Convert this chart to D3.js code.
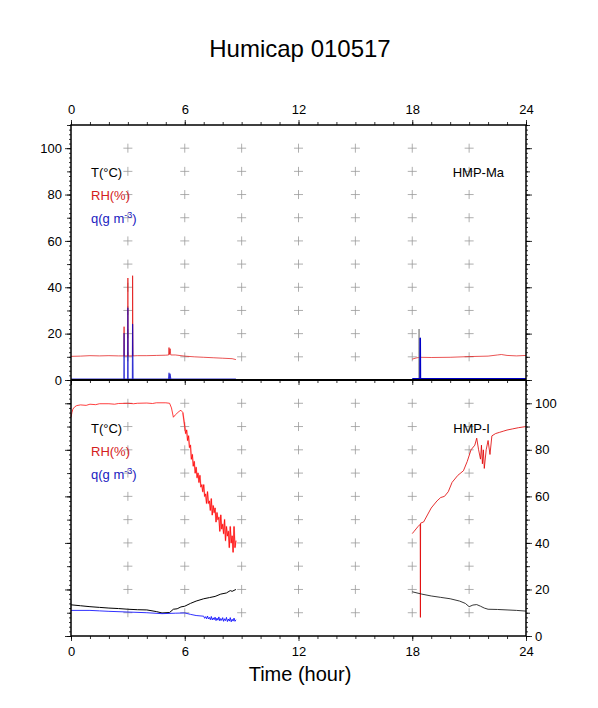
<!DOCTYPE html>
<html>
<head>
<meta charset="utf-8">
<script src="https://cdn.jsdelivr.net/npm/d3@7"></script>
<style>
body { margin: 0; background: #fff; }
text { font-family: "Liberation Sans", Arial, Helvetica, sans-serif; }
</style>
</head>
<body>
<script>
// hours of the day, tick labels
var hourLabels = [0, 6, 12, 18, 24];
var yLabels = [0, 20, 40, 60, 80, 100];

// ---- upper panel, HMP-Ma : [hour, value]
var rhMaAM = [[0,10.2],[0.5,10.3],[1,10.5],[1.5,10.4],[2,10.5],[2.5,10.4],[2.79,10.4],[2.8,23],[2.81,10.4],
  [2.99,10.4],[3.0,44],[3.01,10.4],[3.24,10.4],[3.25,45],[3.27,10.4],[3.5,10.5],[4,10.5],[4.5,10.6],[5,10.7],
  [5.15,10.8],[5.17,14],[5.19,11],[5.23,13.5],[5.26,10.8],[5.5,10.8],[6,10.3],[6.5,10.0],[7,9.8],[7.5,9.6],
  [8,9.4],[8.5,9.2],[8.7,8.8]];
var rhMaPM = [[18.0,9.0],[18.2,9.5],[18.4,9.8],[19,9.7],[20,9.8],[21,10.1],[22,10.3],[22.5,10.8],[22.7,11],
  [23,10.6],[23.5,10.4],[24,10.6]];
var qMaAM = [[0,0.4],[2.79,0.4],[2.8,20],[2.81,0.4],[2.99,0.4],[3.0,31],[3.01,0.4],[3.24,0.4],[3.25,24],
  [3.27,0.4],[5.15,0.4],[5.17,3],[5.19,0.4],[5.23,2.5],[5.26,0.4],[8.7,0.4]];
var qMaPM = [[18.0,0.5],[18.41,0.5],[18.42,18],[18.43,0.5],[24,0.5]];
var tMaAM = [[0,0.2],[8.7,0.2]];
var tMaPM = [[18.0,0.2],[18.35,0.2],[18.36,22],[18.37,0.2],[24,0.2]];

// ---- lower panel, HMP-I : [hour, value]
var rhIAM = [[0,94],[0.05,96],[0.1,97.5],[0.2,98.5],[0.3,99],[0.5,99.3],[0.8,99.1],[1,99.6],[1.3,99.4],
  [1.5,99.8],[2,99.8],[2.3,99.6],[2.5,99.9],[3,100],[3.3,99.8],[3.5,100],[4,100.1],[4.3,99.9],[4.5,100.2],
  [5,100.2],[5.2,100],[5.3,98],[5.4,94],[5.5,95],[5.7,96.5],[5.8,97],[5.9,96],
  [6.00,90],[6.05,87],[6.10,88.5],[6.15,84],[6.20,86],[6.25,81],[6.30,82],[6.35,76],[6.40,78],[6.45,73],
  [6.50,75],[6.55,70],[6.60,72.5],[6.65,68],[6.70,70],[6.75,66],[6.80,69],[6.85,64],[6.90,65],[6.95,62],
  [7.00,65],[7.05,60],[7.10,61],[7.15,57],[7.20,62],[7.25,57],[7.30,58],[7.35,54],[7.40,59],[7.45,52],
  [7.50,56],[7.55,53],[7.60,55],[7.65,49],[7.70,53],[7.75,50],[7.80,51],[7.85,45],[7.90,52],[7.95,46],
  [8.00,48],[8.05,44],[8.10,50],[8.15,41],[8.20,47],[8.25,43],[8.30,45],[8.35,38],[8.40,47],[8.45,40],
  [8.50,43],[8.55,36],[8.60,47],[8.65,38],[8.70,41]];
var rhIPM = [[18.0,44],[18.1,45],[18.2,46],[18.3,47],[18.42,48],[18.43,8],[18.44,48.5],[18.6,49],[18.8,52],
  [19.0,55],[19.3,58],[19.5,59.5],[19.7,60],[19.9,62],[20.1,66],[20.4,69],[20.7,71],[20.9,75],[21.1,80],
  [21.3,82],[21.4,85],[21.5,80],[21.6,76],[21.65,82],[21.7,74],[21.75,80],[21.8,72],[21.9,80],[22.0,84],
  [22.1,78],[22.2,86],[22.4,87],[22.6,87.5],[22.8,88],[23.0,88.5],[23.3,89],[23.6,89.5],[24,90]];
var tIAM = [[0,13.4],[0.5,13],[1,12.6],[1.5,12.3],[2,12],[2.5,11.8],[3,11.5],[3.5,11.3],[4,11.2],[4.5,10.5],
  [4.8,9.9],[5.2,10.1],[5.4,11.5],[5.6,11.7],[5.8,12.5],[6,12.8],[6.3,14],[6.6,15],[7,16],[7.3,16.5],
  [7.6,17],[7.9,18],[8.2,18.5],[8.4,19.5],[8.5,19.2],[8.7,20]];
var tIPM = [[18,19],[18.5,18],[19,17.2],[19.5,16.6],[20,16],[20.5,15],[20.8,14],[21,12.6],[21.2,13.3],
  [21.4,13.5],[21.6,12.8],[21.8,12],[22,11.5],[22.5,11.4],[23,11.2],[23.5,11],[24,10.7]];
var qIAM = [[0,11],[1,11],[1.5,10.8],[2,10.6],[3,10.3],[4,10],[4.8,9.6],[5.5,9.8],[6,9.9],[6.3,9.3],
  [6.6,8.8],[7.0,8.5],[7.05,7.6],[7.1,8.3],[7.15,7.4],[7.2,8.6],[7.25,7.3],[7.3,8.0],[7.35,7.0],[7.4,8.4],
  [7.45,6.9],[7.5,7.8],[7.55,7.0],[7.6,8.1],[7.65,6.6],[7.7,7.7],[7.75,6.8],[7.8,8.2],[7.85,6.5],[7.9,7.5],
  [7.95,6.7],[8.0,7.9],[8.05,6.3],[8.1,7.4],[8.15,6.6],[8.2,8.0],[8.25,6.2],[8.3,7.3],[8.35,6.4],[8.4,7.9],
  [8.45,6.1],[8.5,7.2],[8.55,6.4],[8.6,7.7],[8.65,6.3],[8.7,7.0]];

var W = 598, H = 708;
var left = 71, right = 526;

var svg = d3.select("body").append("svg")
  .attr("width", W)
  .attr("height", H);

var x = d3.scaleLinear().domain([0, 24]).range([left, right]);
var yTop = d3.scaleLinear().domain([0, 110]).range([380, 125]);
var yBot = d3.scaleLinear().domain([0, 110]).range([636, 380]);

// grid crosses
function crosses(y) {
  var g = svg.append("g").attr("stroke", "#9a9a9a").attr("stroke-width", 0.8);
  d3.range(3, 24, 3).forEach(function(h) {
    d3.range(10, 101, 10).forEach(function(v) {
      g.append("line").attr("x1", x(h) - 4.5).attr("x2", x(h) + 4.5).attr("y1", y(v)).attr("y2", y(v));
      g.append("line").attr("x1", x(h)).attr("x2", x(h)).attr("y1", y(v) - 4.5).attr("y2", y(v) + 4.5);
    });
  });
}
crosses(yTop);
crosses(yBot);

// data lines
function draw(y, data, color, width, opacity) {
  var line = d3.line().x(d => x(d[0])).y(d => y(d[1]));
  svg.append("path")
    .datum(data)
    .attr("d", line)
    .attr("fill", "none")
    .attr("stroke", color)
    .attr("stroke-width", width)
    .attr("stroke-opacity", opacity)
    .attr("stroke-linejoin", "round");
}

draw(yTop, rhMaAM, "#e00000", 0.9, 0.75);
draw(yTop, rhMaPM, "#e00000", 0.9, 0.75);
draw(yTop, tMaAM, "#000", 1, 1);
draw(yTop, tMaPM, "#808080", 1, 0.8);
draw(yTop, qMaAM, "#0000c8", 1.2, 0.8);
draw(yTop, qMaPM, "#0000c8", 1.6, 1);

// noisy part gets a soft halo
draw(yBot, rhIAM.filter(d => d[0] >= 5.9), "#ff6060", 1.6, 0.5);
draw(yBot, rhIAM, "#ff0000", 0.8, 0.95);
draw(yBot, rhIPM, "#e00000", 0.9, 0.9);
draw(yBot, tIAM, "#000", 1, 1);
draw(yBot, tIPM, "#202020", 0.9, 1);
draw(yBot, qIAM, "#0000ff", 0.9, 0.9);

// axes
function styleAxis(g) {
  g.select(".domain").remove();
  g.selectAll("line").attr("stroke", "#000").attr("stroke-width", 0.8);
  g.selectAll("text").attr("font-size", 13).attr("fill", "#000")
    .attr("font-family", "'Liberation Sans', Arial, sans-serif");
}

function xAxes(axisFn, yPos, withLabels) {
  svg.append("g").attr("transform", "translate(0," + yPos + ")")
    .call(axisFn(x).tickValues(d3.range(0, 25, 1)).tickSize(3).tickFormat(""))
    .call(styleAxis);
  svg.append("g").attr("transform", "translate(0," + yPos + ")")
    .call(axisFn(x).tickValues(hourLabels).tickSize(5).tickPadding(6)
      .tickFormat(withLabels ? d3.format("d") : ""))
    .call(styleAxis);
}
xAxes(d3.axisTop, 125, true);
xAxes(d3.axisBottom, 380, false);
xAxes(d3.axisBottom, 636, true);

function yAxes(axisFn, xPos, y, withLabels) {
  svg.append("g").attr("transform", "translate(" + xPos + ",0)")
    .call(axisFn(y).tickValues(d3.range(0, 111, 2)).tickSize(2).tickFormat(""))
    .call(styleAxis);
  svg.append("g").attr("transform", "translate(" + xPos + ",0)")
    .call(axisFn(y).tickValues(d3.range(0, 111, 10)).tickSize(4).tickFormat(""))
    .call(styleAxis);
  svg.append("g").attr("transform", "translate(" + xPos + ",0)")
    .call(axisFn(y).tickValues(yLabels).tickSize(6).tickPadding(3)
      .tickFormat(withLabels ? d3.format("d") : ""))
    .call(styleAxis);
}
yAxes(d3.axisLeft, left, yTop, true);
yAxes(d3.axisRight, right, yTop, false);
yAxes(d3.axisLeft, left, yBot, false);
yAxes(d3.axisRight, right, yBot, true);

// frames
svg.append("rect")
  .attr("x", left).attr("y", 125).attr("width", right - left).attr("height", 636 - 125)
  .attr("fill", "none").attr("stroke", "#000").attr("stroke-width", 1.5);
svg.append("line")
  .attr("x1", left).attr("x2", right).attr("y1", 380).attr("y2", 380)
  .attr("stroke", "#000").attr("stroke-width", 2);

// legends
function legend(y0, name, nameX) {
  var g = svg.append("g").attr("font-size", 13);
  g.append("text").attr("x", 91).attr("y", y0).attr("fill", "#000").text("T(\u00B0C)");
  g.append("text").attr("x", 91).attr("y", y0 + 23).attr("fill", "#d42020").text("RH(%)");
  var q = g.append("text").attr("x", 91).attr("y", y0 + 46).attr("fill", "#2020c0");
  q.append("tspan").text("q(g m");
  q.append("tspan").attr("font-size", 9).attr("dy", -5).text("-3");
  q.append("tspan").attr("dy", 5).text(")");
  g.append("text").attr("x", nameX).attr("y", y0).attr("text-anchor", "end").attr("fill", "#000").text(name);
}
legend(177, "HMP-Ma", 504);
legend(433, "HMP-I", 490);

// titles
svg.append("text")
  .attr("x", 300).attr("y", 57)
  .attr("text-anchor", "middle")
  .attr("font-size", 24)
  .text("Humicap 010517");
svg.append("text")
  .attr("x", 300).attr("y", 681)
  .attr("text-anchor", "middle")
  .attr("font-size", 20)
  .text("Time (hour)");
</script>
</body>
</html>
